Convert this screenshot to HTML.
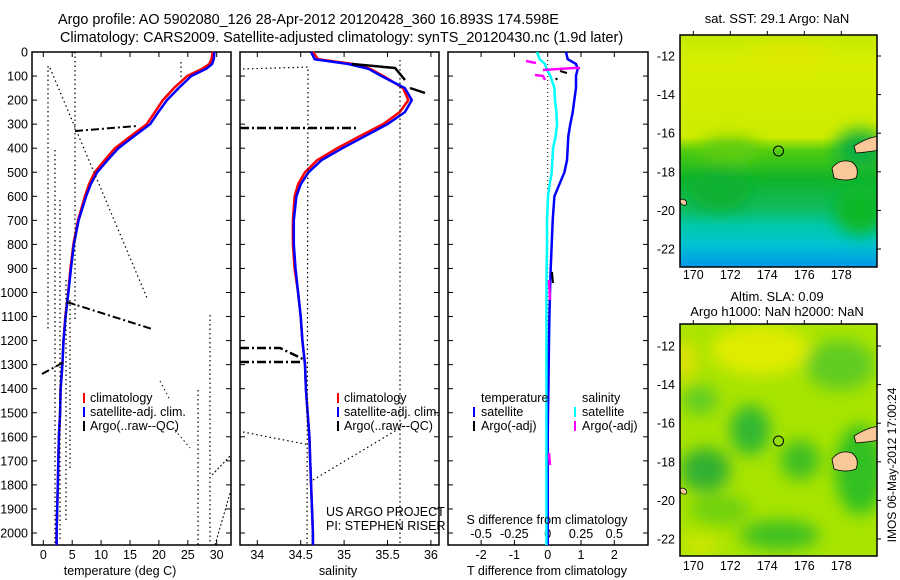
<!DOCTYPE html>
<html><head><meta charset="utf-8">
<style>
html,body{margin:0;padding:0;background:#fff;}
svg{display:block;font-family:"Liberation Sans",sans-serif;}
text{fill:#000;}
</style></head>
<body>
<svg id="fig" width="900" height="580" viewBox="0 0 900 580" xmlns="http://www.w3.org/2000/svg">
<defs>
<linearGradient id="sstGrad" x1="0" y1="0" x2="0" y2="1">
<stop offset="0" stop-color="#c4ea00"/><stop offset="0.12" stop-color="#d8ee00"/>
<stop offset="0.44" stop-color="#cdec00"/><stop offset="0.5" stop-color="#50cc10"/>
<stop offset="0.62" stop-color="#10b428"/><stop offset="0.75" stop-color="#10bc60"/>
<stop offset="0.82" stop-color="#00c8a8"/><stop offset="0.9" stop-color="#00c4d0"/>
<stop offset="1" stop-color="#0098e8"/></linearGradient>
<filter id="blur" x="-50%" y="-50%" width="200%" height="200%"><feGaussianBlur stdDeviation="8"/></filter>
<clipPath id="m1clip"><rect x="680" y="35" width="197" height="232"/></clipPath>
<clipPath id="m2clip"><rect x="680" y="324" width="197" height="232"/></clipPath>
</defs>

<text x="58" y="24" font-size="14.4">Argo profile: AO 5902080_126 28-Apr-2012 20120428_360 16.893S 174.598E</text>
<text x="60" y="42" font-size="14.4">Climatology: CARS2009. Satellite-adjusted climatology: synTS_20120430.nc (1.9d later)</text>

<g id="p1"></g>
<g id="p2"></g>
<g id="p3"></g>

<g fill="none" stroke="#000">
<path d="M48 66 L48 330 M75 52 L75 320 M50 68 L147 298 M55 150 L55 545 M60 200 L60 540 M66 280 L66 520 M70 300 L70 470 M198 390 L198 545 M210 315 L210 545 M181 62 L181 80" stroke-width="1.2" stroke-dasharray="1.5 3"/>
<path d="M212 475 L231 455 M215 545 L231 490" stroke-width="1" stroke-dasharray="2 2"/>
<path d="M75 131 L137 126 M67 302 L152 329 M42 374 L64 362" stroke-width="2" stroke-dasharray="8 3 2 3"/>
<path d="M160 381 L170 400 M175 430 L190 448" stroke-width="1" stroke-dasharray="1.5 3"/>
</g>
<g fill="none" stroke="#000">
<path d="M243 69 L308 67 L307 545 M400 60 L400 545 M243 432 L310 445 M313 480 L405 425" stroke-width="1.2" stroke-dasharray="1.5 3"/>
<path d="M240 128 L358 128 M240 348 L280 348 L305 360 M240 362 L303 362" stroke-width="2.5" stroke-dasharray="9 3 2 3"/>
<path d="M352 64 L395 68 L405 80 M410 88 L425 93" stroke-width="2.5"/>
</g>

<g clip-path="url(#m1clip)">
<rect x="680" y="35" width="197" height="232" fill="url(#sstGrad)"/>
<g filter="url(#blur)">
<ellipse cx="730" cy="150" rx="30" ry="12" fill="#60cc10"/>
<ellipse cx="860" cy="150" rx="25" ry="20" fill="#10b040"/>
<ellipse cx="720" cy="190" rx="30" ry="20" fill="#08b030"/>
<ellipse cx="860" cy="210" rx="25" ry="25" fill="#10b828"/>
<ellipse cx="790" cy="55" rx="40" ry="10" fill="#e0e800"/>
</g>
<path d="M832 168 Q840 158 852 162 Q860 168 856 178 Q846 182 834 178 Z" fill="#f8c898" stroke="#000" stroke-width="0.8"/>
<path d="M854 146 Q868 137 880 136 L880 150 Q868 152 856 153 Z" fill="#f8c898" stroke="#000" stroke-width="0.8"/>
<path d="M682 199 Q688 200 686 205 Q680 206 680 200Z" fill="#f8c898" stroke="#000" stroke-width="0.7"/>
<circle cx="778.5" cy="151" r="5" fill="none" stroke="#000" stroke-width="1"/>
</g>
<g clip-path="url(#m2clip)">
<rect x="680" y="324" width="197" height="232" fill="#a8e400"/>
<g filter="url(#blur)">
<ellipse cx="760" cy="350" rx="50" ry="25" fill="#e0ec00"/>
<ellipse cx="685" cy="360" rx="10" ry="20" fill="#e8e000"/>
<ellipse cx="840" cy="365" rx="35" ry="25" fill="#60cc20"/>
<ellipse cx="700" cy="400" rx="18" ry="15" fill="#60cc20"/>
<ellipse cx="750" cy="430" rx="20" ry="25" fill="#30b830"/>
<ellipse cx="705" cy="470" rx="25" ry="22" fill="#30b030"/>
<ellipse cx="800" cy="460" rx="20" ry="20" fill="#40c020"/>
<ellipse cx="860" cy="470" rx="25" ry="45" fill="#30c020"/>
<ellipse cx="720" cy="510" rx="30" ry="15" fill="#70d010"/>
<ellipse cx="780" cy="535" rx="40" ry="15" fill="#40c020"/>
<ellipse cx="700" cy="545" rx="20" ry="10" fill="#d0e800"/>
</g>
<path d="M832 459 Q840 449 852 453 Q860 459 856 469 Q846 473 834 469 Z" fill="#f8c898" stroke="#000" stroke-width="0.8"/>
<path d="M854 436 Q868 427 880 426 L880 440 Q868 442 856 443 Z" fill="#f8c898" stroke="#000" stroke-width="0.8"/>
<path d="M682 488 Q688 489 686 494 Q680 495 680 489Z" fill="#f8c898" stroke="#000" stroke-width="0.7"/>
<circle cx="778.5" cy="441" r="5" fill="none" stroke="#000" stroke-width="1"/>
</g>
<g id="mapaxes"></g>

<text x="777" y="23" font-size="13" text-anchor="middle">sat. SST: 29.1  Argo: NaN</text>
<text x="777" y="301" font-size="13" text-anchor="middle">Altim. SLA: 0.09</text>
<text x="777" y="316" font-size="13" text-anchor="middle">Argo h1000: NaN h2000: NaN</text>
<text transform="translate(896,465) rotate(-90)" font-size="12" text-anchor="middle">IMOS 06-May-2012 17:00:24</text>

<g font-size="12.5">
<rect x="83" y="393" width="2" height="10" fill="#f00"/><text x="90" y="402">climatology</text>
<rect x="83" y="407" width="2" height="10" fill="#00f"/><text x="90" y="416">satellite-adj. clim.</text>
<rect x="83" y="421" width="2" height="10" fill="#000"/><text x="90" y="430">Argo(..raw--QC)</text>
</g>
<g font-size="12.5">
<rect x="337" y="393" width="2" height="10" fill="#f00"/><text x="344" y="402">climatology</text>
<rect x="337" y="407" width="2" height="10" fill="#00f"/><text x="344" y="416">satellite-adj. clim.</text>
<rect x="337" y="421" width="2" height="10" fill="#000"/><text x="344" y="430">Argo(..raw--QC)</text>
</g>
<g font-size="12.5">
<text x="481" y="402">temperature</text><text x="582" y="402">salinity</text>
<rect x="473" y="407" width="2" height="10" fill="#00f"/><text x="481" y="416">satellite</text>
<rect x="473" y="421" width="2" height="10" fill="#000"/><text x="481" y="430">Argo(-adj)</text>
<rect x="574" y="407" width="2" height="10" fill="#0ff"/><text x="582" y="416">satellite</text>
<rect x="574" y="421" width="2" height="10" fill="#f0f"/><text x="582" y="430">Argo(-adj)</text>
</g>
<text x="326" y="516" font-size="12.5">US ARGO PROJECT</text>
<text x="326" y="530" font-size="12.5">PI: STEPHEN RISER</text>
<text x="547" y="524" font-size="12.5" text-anchor="middle">S difference from climatology</text>
<text x="120" y="575" font-size="12.5" text-anchor="middle">temperature (deg C)</text>
<text x="338" y="575" font-size="12.5" text-anchor="middle">salinity</text>
<text x="547" y="575" font-size="12.5" text-anchor="middle">T difference from climatology</text>

<script>
const depths = [0,30,50,70,100,150,200,250,300,350,400,450,500,550,600,700,800,900,1000,1100,1200,1300,1400,1500,1600,1700,1800,1900,2000,2050];
const tempClim = [29.3,29.1,28.7,27.5,24.9,22.6,20.7,19.3,17.9,15.1,12.4,10.6,8.9,7.9,7.2,6.0,5.2,4.7,4.3,3.8,3.5,3.3,3.0,2.9,2.7,2.6,2.5,2.4,2.3,2.3];
const tempSat  = [29.6,29.5,29.2,28.2,25.6,23.4,21.4,19.9,18.5,15.7,13.0,11.1,9.3,8.2,7.4,6.1,5.3,4.8,4.35,3.85,3.5,3.3,3.0,2.9,2.7,2.6,2.5,2.4,2.3,2.3];
const salClim  = [34.64,34.7,35.1,35.3,35.45,35.68,35.74,35.64,35.45,35.18,34.92,34.69,34.55,34.47,34.43,34.41,34.41,34.43,34.47,34.5,34.52,34.55,34.56,34.58,34.6,34.61,34.62,34.63,34.64,34.64];
const salSat   = [34.62,34.66,35.05,35.28,35.43,35.7,35.78,35.7,35.5,35.24,34.98,34.74,34.59,34.5,34.45,34.42,34.42,34.44,34.47,34.5,34.52,34.55,34.56,34.58,34.6,34.61,34.62,34.63,34.64,34.64];
const tDiffSat = [0.55,0.6,0.85,0.9,0.85,0.85,0.8,0.75,0.68,0.62,0.6,0.58,0.5,0.35,0.2,0.15,0.12,0.09,0.07,0.05,0.04,0.03,0.02,0.01,0.0,0.0,0.0,0.0,0.0,0.0];
const sDiffSat = [-0.08,-0.06,-0.02,-0.01,0.02,0.05,0.055,0.065,0.07,0.06,0.04,0.035,0.03,0.015,0.002,-0.005,-0.005,-0.008,-0.01,-0.01,-0.01,-0.01,-0.01,-0.01,-0.01,-0.01,-0.01,-0.01,-0.01,-0.01];
const depthTicks = [0,100,200,300,400,500,600,700,800,900,1000,1100,1200,1300,1400,1500,1600,1700,1800,1900,2000];
const tempTicks = [0,5,10,15,20,25,30];
const salTicks = [34,34.5,35,35.5,36];
const salTickLabels = ["34","34.5","35","35.5","36"];
const tdTicks = [-2,-1,0,1,2];
const sdTicks = [-0.5,-0.25,0,0.25,0.5];
const sdTickLabels = ["-0.5","-0.25","0","0.25","0.5"];
const latTicks = [-12,-14,-16,-18,-20,-22];
const lonTicks = [170,172,174,176,178];

const NS="http://www.w3.org/2000/svg";
const yD = d => 52 + d*0.2405;
const xT = t => 43.3 + t*5.78;
const xS = s => 257.3 + (s-34)*86.8;
const xTD = v => 547.7 + v*33.3;
const xSD = v => 547.7 + v*133.2;
const lonX = l => 693.3 + (l-170)*18.5;
const latY1 = l => 56 + (-12-l)*19.3;
const latY2 = l => 346 + (-12-l)*19.3;

function mk(tag, attrs, parent){const e=document.createElementNS(NS,tag);for(const k in attrs)e.setAttribute(k,attrs[k]);parent.appendChild(e);return e;}

function frame(g,x0,x1,name){
  const r=mk('rect',{x:x0,y:52,width:x1-x0,height:493,fill:'none',stroke:'#000','stroke-width':1.5},g);
  
  
  depthTicks.forEach(d=>{
    mk('line',{x1:x0,x2:x0+5,y1:yD(d),y2:yD(d),stroke:'#000'},g);
    mk('line',{x1:x1-5,x2:x1,y1:yD(d),y2:yD(d),stroke:'#000'},g);
  });
}
function line(g,xs,ys,color,w,name){
  const pts=ys.map((v,i)=>xs(v).toFixed(1)+','+yD(depths[i]).toFixed(1)).join(' ');
  const p=mk('polyline',{points:pts,fill:'none',stroke:color,'stroke-width':w,'stroke-linejoin':'round'},g);
  
  
}
function xticks(g,ticks,labels,xs,x0,x1,ylab){
  ticks.forEach((t,i)=>{
    const x=xs(t);
    mk('line',{x1:x,x2:x,y1:52,y2:57,stroke:'#000'},g);
    mk('line',{x1:x,x2:x,y1:540,y2:545,stroke:'#000'},g);
    const tx=mk('text',{x:x,y:ylab,'font-size':12.5,'text-anchor':'middle'},g);
    tx.textContent=labels[i];
    
    
  });
}

const p1=document.getElementById('p1');
frame(p1,32,231,'temp-panel');
depthTicks.forEach(d=>{
  const t=mk('text',{x:28,y:yD(d)+4.5,'font-size':12.5,'text-anchor':'end'},p1);
  t.textContent=d;
  
  
});
xticks(p1,tempTicks,tempTicks.map(String),xT,32,231,559);
line(p1,xT,tempClim,'#f00',2.5,'temp-climatology-line');
line(p1,xT,tempSat,'#00f',2.5,'temp-satellite-line');

const p2=document.getElementById('p2');
frame(p2,240,439,'sal-panel');
xticks(p2,salTicks,salTickLabels,xS,240,439,559);
line(p2,xS,salClim,'#f00',2.5,'sal-climatology-line');
line(p2,xS,salSat,'#00f',2.5,'sal-satellite-line');

const p3=document.getElementById('p3');
frame(p3,448,648,'diff-panel');
xticks(p3,tdTicks,tdTicks.map(String),xTD,448,648,559);
sdTicks.forEach((t,i)=>{
  const tx=mk('text',{x:xSD(t),y:538,'font-size':12.5,'text-anchor':'middle'},p3);
  tx.textContent=sdTickLabels[i];
  
  
});
mk('line',{x1:547.7,x2:547.7,y1:60,y2:545,stroke:'#000','stroke-dasharray':'1 3'},p3);
line(p3,xTD,tDiffSat,'#00f',2.5,'tdiff-satellite-line');
line(p3,xSD,sDiffSat,'#0ff',2.5,'sdiff-satellite-line');
const mg=mk('path',{d:'M526 61 L536 63 M543 70 L574 68 L580 68 M535 75 L543 76 L545 80 M549 280 L550 300 M549 453 L550 465',stroke:'#f0f','stroke-width':2.5,fill:'none'},p3);


const bk=mk('path',{d:'M560 71 L567 73 M556 78 L557 80 M552 272 L553 283',stroke:'#000','stroke-width':2,fill:'none'},p3);



const ma=document.getElementById('mapaxes');
[[35,267,latY1,279],[324,556,latY2,570]].forEach(([y0,y1,ly,lab],mi)=>{
  const r=mk('rect',{x:680,y:y0,width:197,height:y1-y0,fill:'none',stroke:'#000','stroke-width':1.5},ma);
  
  
  latTicks.forEach(l=>{
    mk('line',{x1:877,x2:881,y1:ly(l),y2:ly(l),stroke:'#000'},ma);
    const t=mk('text',{x:675,y:ly(l)+4.5,'font-size':12.5,'text-anchor':'end'},ma);
    t.textContent=l;
    
    
  });
  lonTicks.forEach(l=>{
    mk('line',{x1:lonX(l),x2:lonX(l),y1:y0-4,y2:y0,stroke:'#000'},ma);
    const t=mk('text',{x:lonX(l),y:lab,'font-size':12.5,'text-anchor':'middle'},ma);
    t.textContent=l;
    
    
  });
});
</script>
</svg>
</body></html>
